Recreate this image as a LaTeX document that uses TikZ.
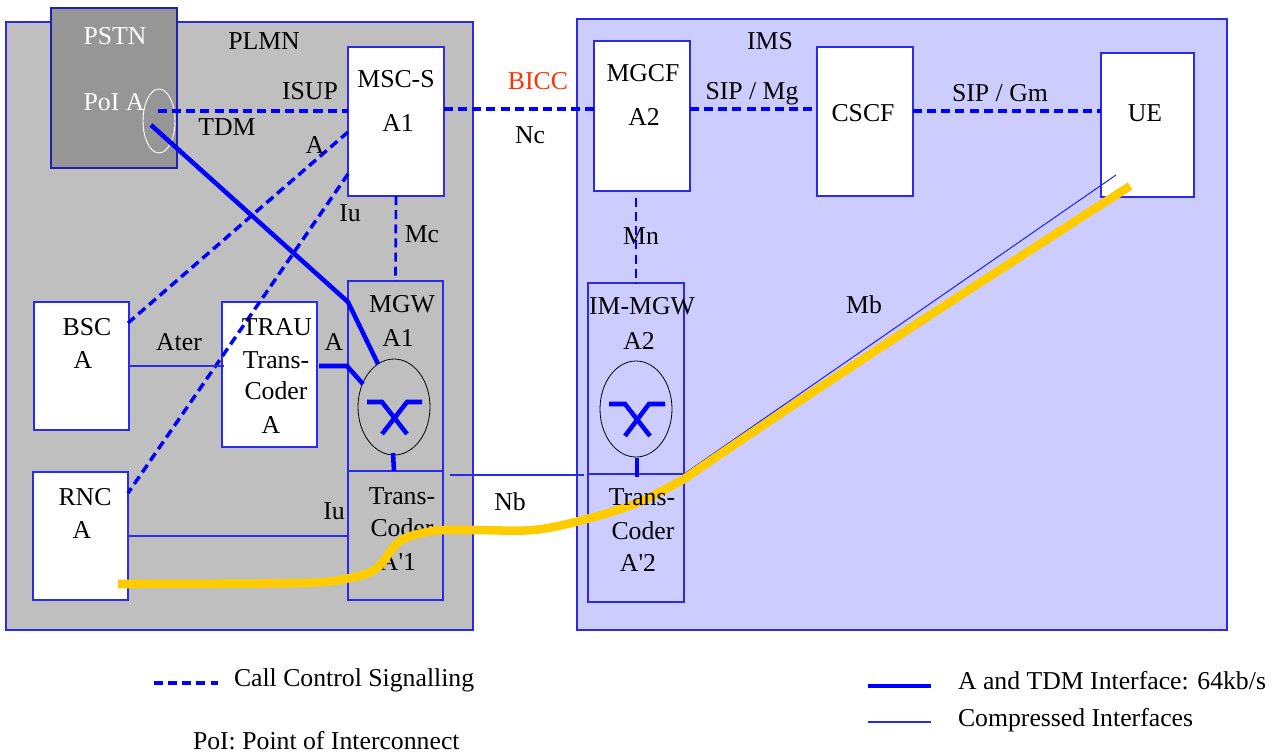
\documentclass[tikz,border=0pt]{standalone}
\usepackage{fontspec}
\setmainfont{Liberation Serif}
\font\rawserif="Liberation Serif" at 19.3pt
\newcommand{\straightq}{{\rawserif\char39 }}
\usetikzlibrary{calc,shapes.geometric}
\definecolor{lineblue}{HTML}{0000FF}
\definecolor{edgeblue}{HTML}{2A2AE8}
\definecolor{plmngray}{HTML}{BFBFBF}
\definecolor{pstngray}{HTML}{969696}
\definecolor{imsblue}{HTML}{CCCCFF}
\definecolor{trackyellow}{HTML}{FFCC00}
\definecolor{biccred}{HTML}{FF3300}
\newcommand{\boxnode}[6]{\node[#2,minimum width={(#5-#3)*0.75pt},minimum height={(#6-#4)*0.75pt}] (#1) at ({(#3+#5)/2},{(#4+#6)/2}) {};}
\tikzset{
  x=0.75pt,y=-0.75pt,
  bx/.style={draw=edgeblue,line width=0.9pt,inner sep=0pt,outer sep=0pt},
  whitebox/.style={bx,fill=white},
  openbox/.style={bx},
  lbl/.style={inner sep=0pt,outer sep=0pt,font=\fontsize{19.3}{22}\selectfont,text height=12.6pt,text depth=0pt,anchor=center},
  leftlbl/.style={lbl,anchor=west},
  dashline/.style={draw=lineblue,line width=2.6pt,dash pattern=on 6.8pt off 3.8pt},
  minordash/.style={draw=lineblue,line width=2pt,dash pattern=on 6.8pt off 3.8pt},
  thickline/.style={draw=lineblue,line width=3.4pt,line join=miter},
  thinline/.style={draw=edgeblue,line width=0.8pt},
  oval/.style={draw=black,line width=0.6pt,ellipse,inner sep=0pt,outer sep=0pt},
  track/.style={draw=trackyellow,line width=6.4pt}
}
\begin{document}
\begin{tikzpicture}
\useasboundingbox (0,0) rectangle (1273,753);
% regions
\boxnode{plmn}{bx,fill=plmngray}{6}{22}{473}{630}
\boxnode{ims}{bx,fill=imsblue}{577}{19}{1227}{630}
\boxnode{pstn}{bx,fill=pstngray,draw=edgeblue!75!black}{51}{8}{177}{168}
% boxes
\boxnode{msc}{whitebox}{348}{47}{444}{196}
\boxnode{mgw}{openbox}{348}{281}{443}{471}
\boxnode{tca}{openbox}{348}{471}{443}{600}
\boxnode{bsc}{whitebox}{34}{302}{129}{430}
\boxnode{trau}{whitebox}{222}{302}{317}{447}
\boxnode{rnc}{whitebox}{33}{472}{128}{600}
\boxnode{mgcf}{whitebox}{594}{41}{690}{191}
\boxnode{cscf}{whitebox}{817}{47}{913}{196}
\boxnode{ue}{whitebox}{1101}{53}{1194}{197}
\boxnode{immgw}{openbox}{588}{283}{684}{474}
\boxnode{tcb}{openbox}{588}{474}{684}{602}
% ellipses
\node[draw=white,line width=0.7pt,ellipse,minimum width=24pt,minimum height=48pt,inner sep=0pt,outer sep=0pt] (poi) at (159,121) {};
\node[oval,minimum width=54pt,minimum height=72pt] (swa) at (394,407) {};
\node[oval,minimum width=54pt,minimum height=72pt] (swb) at (636,409) {};
% connector end points
\coordinate (p1) at (158,111);
\coordinate (mscw) at (348,111);
\coordinate (msce) at (444,109);
\coordinate (mgcfw) at (594,109);
\coordinate (mgcfe) at (690,109);
\coordinate (cscfw) at (817,109);
\coordinate (cscfe) at (913,111);
\coordinate (uew) at (1101,111);
\coordinate (msca) at (348,132);
\coordinate (bsca) at (128,323);
\coordinate (msciu) at (348,174);
\coordinate (rnciu) at (128,493);
\coordinate (tdm) at (151,125);
\coordinate (bendm) at (348,302);
\coordinate (swtop) at (378,364);
\coordinate (trauo) at (319,366);
\coordinate (bendt) at (347,366);
\coordinate (swleft) at (363,384);
% dashed signalling
\draw[dashline] (p1) -- (mscw);
\draw[dashline] (msce) -- (mgcfw);
\draw[dashline] (mgcfe) -- (cscfw);
\draw[dashline] (cscfe) -- (uew);
\draw[dashline] (msca) -- (bsca);
\draw[dashline] (msciu) -- (rnciu);
\draw[minordash] (msc.south) -- (mgw.north);
\coordinate (mgcfs) at (636,198);
\draw[minordash] (mgcfs) -- (immgw.north);
% thick
\draw[thickline] (tdm) -- (bendm) -- (swtop);
\draw[thickline] (trauo) -- (bendt) -- (swleft);
\coordinate (xa1) at (367,402); \coordinate (xa2) at (382,402); \coordinate (xa3) at (407,434);
\coordinate (xa4) at (422,402); \coordinate (xa5) at (407,402); \coordinate (xa6) at (382,434);
\draw[thickline] (xa1) -- (xa2) -- (xa3);
\draw[thickline] (xa4) -- (xa5) -- (xa6);
\coordinate (xb1) at (609,404); \coordinate (xb2) at (625,404); \coordinate (xb3) at (650,436);
\coordinate (xb4) at (665,404); \coordinate (xb5) at (649,404); \coordinate (xb6) at (625,436);
\draw[thickline] (xb1) -- (xb2) -- (xb3);
\draw[thickline] (xb4) -- (xb5) -- (xb6);
\coordinate (sa) at (393,453); \coordinate (sb) at (394,471);
\draw[thickline] (sa) -- (sb);
\coordinate (sc) at (637,458); \coordinate (sd) at (637,477);
\draw[thickline] (sc) -- (sd);
% thin
\coordinate (bsce) at (129,366); \coordinate (trauw) at (224,366);
\draw[thinline] (bsce) -- (trauw);
\coordinate (rnce) at (128,536); \coordinate (tcaw) at (348,536);
\draw[thinline] (rnce) -- (tcaw);
\coordinate (nba) at (450,475); \coordinate (nbb) at (584,475);
\draw[thinline] (nba) -- (nbb);
\coordinate (mba) at (684,474); \coordinate (mbb) at (1116,175);
\draw[thinline] (mba) -- (mbb);
% labels under the track
\node[lbl] (t1) at (115,36) {\textcolor{white}{PSTN}};
\node[lbl] (t2) at (114,102) {\textcolor{white}{PoI A}};
\node[lbl] (t3) at (264,41) {PLMN};
\node[lbl] (t4) at (310,91) {ISUP};
\node[lbl] (t5) at (227,127) {TDM};
\node[lbl] (t6) at (315,145) {A};
\node[lbl] (t7) at (350,213) {Iu};
\node[lbl] (t8) at (422,234) {Mc};
\node[lbl] (t9) at (396,79) {MSC-S};
\node[lbl] (t10) at (398,123) {A1};
\node[lbl,text=biccred] (t11) at (538,81) {BICC};
\node[lbl] (t12) at (530,135) {Nc};
\node[lbl] (t13) at (643,73) {MGCF};
\node[lbl] (t14) at (644,117) {A2};
\node[lbl] (t15) at (770,41) {IMS};
\node[lbl] (t16) at (752,91) {SIP / Mg};
\node[lbl] (t17) at (863,113) {CSCF};
\node[lbl] (t18) at (1000,93) {SIP / Gm};
\node[lbl] (t19) at (1145,113) {UE};
\node[lbl] (t20) at (641,236) {Mn};
\node[lbl] (t21) at (402,304) {MGW};
\node[lbl] (t22) at (398,338) {A1};
\node[lbl] (t23) at (642,306) {IM-MGW};
\node[lbl] (t24) at (639,341) {A2};
\node[lbl] (t25) at (864,305) {Mb};
\node[lbl] (t26) at (87,327) {BSC};
\node[lbl] (t27) at (83,360) {A};
\node[lbl] (t28) at (179,342) {Ater};
\node[lbl] (t29) at (277,327) {TRAU};
\node[lbl] (t30) at (276,360) {Trans-};
\node[lbl] (t31) at (276,391) {Coder};
\node[lbl] (t32) at (271,425) {A};
\node[lbl] (t33) at (334,342) {A};
\node[lbl] (t34) at (85,497) {RNC};
\node[lbl] (t35) at (82,530) {A};
\node[lbl] (t36) at (334,511) {Iu};
\node[lbl] (t37) at (402,496) {Trans-};
\node[lbl] (t38) at (402,528) {Coder};
\node[lbl] (t39) at (398,562) {A\straightq 1};
\node[lbl] (t40) at (510,502) {Nb};
% yellow track
\coordinate (yb) at (1130,186);
\coordinate (yc) at (684,479);
\draw[track] plot[smooth,tension=0.55] coordinates {(118,584) (300,583) (350,578) (377,568) (400,541) (433,531) (473,530) (533,530) (583,520) (637,503) (yc)} .. controls (800,399) and (960,295) .. (yb);
% labels over the track
\node[lbl] (t41) at (642,497) {Trans-};
\node[lbl] (t42) at (643,531) {Coder};
\node[lbl] (t43) at (638,563) {A\straightq 2};
% legend
\coordinate (l1a) at (154,683); \coordinate (l1b) at (218,683);
\draw[dashline] (l1a) -- (l1b);
\node[leftlbl] (l1) at (234,678) {Call Control Signalling};
\node[leftlbl] (l2) at (193,741) {PoI: Point of Interconnect};
\coordinate (l3a) at (868,686); \coordinate (l3b) at (931,686);
\draw[thickline] (l3a) -- (l3b);
\node[leftlbl] (l3) at (958,681) {A and TDM Interface: 64kb/s};
\coordinate (l4a) at (868,722); \coordinate (l4b) at (931,722);
\draw[thinline] (l4a) -- (l4b);
\node[leftlbl] (l4) at (958,718) {Compressed Interfaces};
\end{tikzpicture}
\end{document}
